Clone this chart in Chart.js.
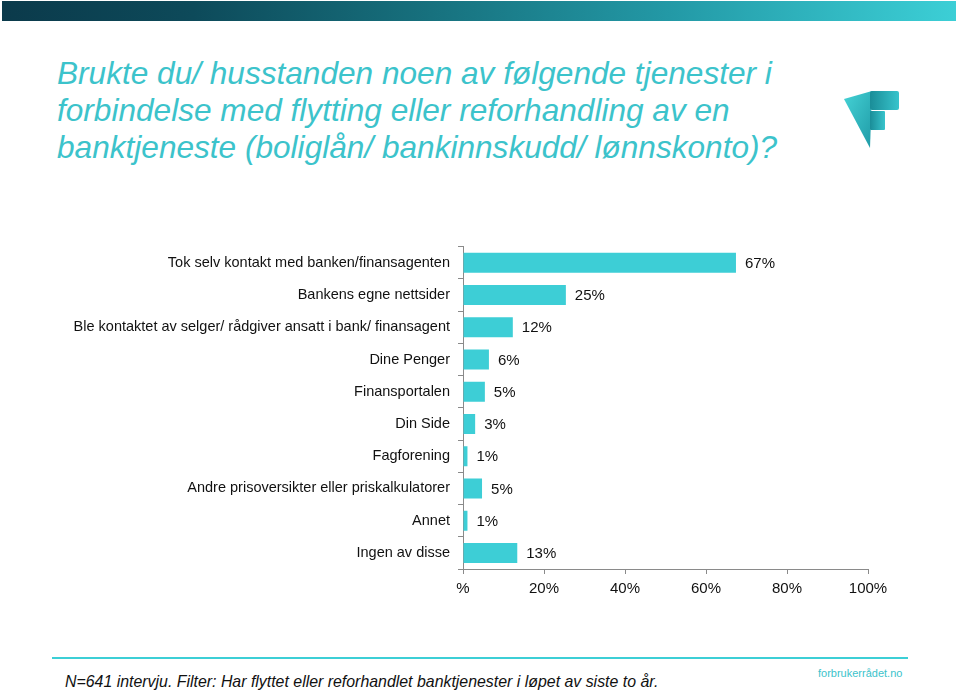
<!DOCTYPE html>
<html>
<head>
<meta charset="utf-8">
<script src="https://cdn.jsdelivr.net/npm/chart.js@4/dist/chart.umd.min.js"></script>
<style>
  html, body { margin: 0; padding: 0; background: #fff; }
  body { width: 959px; height: 693px; position: relative; overflow: hidden; font-family: "Liberation Sans", Arial, sans-serif; }
  #topbar { position: absolute; left: 2px; top: 1px; width: 954px; height: 20px;
    background: linear-gradient(to right, #0b3a4b 0%, #0d4a5a 20%, #17717e 45%, #2399a6 70%, #3ccfd6 100%); }
  #title { position: absolute; left: 57px; top: 55px; font-style: italic; font-size: 31.6px; line-height: 37px; color: #3cc3cb; }
  #wrap { position: absolute; left: 0; top: 230px; width: 959px; height: 380px; }
  #footline { position: absolute; left: 52px; top: 657px; width: 856px; height: 2px; background: #3ccfd6; }
  #foot { position: absolute; left: 65px; top: 673px; font-style: italic; font-size: 15.9px; color: #111; }
  #site { position: absolute; left: 818px; top: 667px; font-size: 11px; color: #3cc3cb; }
  #logo { position: absolute; left: 840px; top: 88px; }
</style>
</head>
<body>
<div id="topbar"></div>
<div id="title">Brukte du/ husstanden noen av følgende tjenester i<br>forbindelse med flytting eller reforhandling av en<br>banktjeneste (boliglån/ bankinnskudd/ lønnskonto)?</div>
<svg id="logo" width="65" height="65" viewBox="840 88 65 65">
  <defs>
    <linearGradient id="g1" x1="0" y1="0" x2="1" y2="1">
      <stop offset="0" stop-color="#45d3d6"/><stop offset="1" stop-color="#1f9aa6"/>
    </linearGradient>
    <linearGradient id="g2" x1="0" y1="0" x2="1" y2="0">
      <stop offset="0" stop-color="#1a8d98"/><stop offset="1" stop-color="#38c4cc"/>
    </linearGradient>
  </defs>
  <polygon points="844,99 872,91 870,148" fill="url(#g1)"/>
  <rect x="870" y="91" width="29" height="19" rx="2" fill="url(#g2)"/>
  <rect x="870" y="111" width="15" height="19" rx="1" fill="url(#g2)"/>
</svg>
<div id="wrap"><canvas id="c" width="959" height="380"></canvas></div>
<div id="footline"></div>
<div id="foot">N=641 intervju. Filter: Har flyttet eller reforhandlet banktjenester i løpet av siste to år.</div>
<div id="site">forbrukerrådet.no</div>
<script>
const categories = [
  "Tok selv kontakt med banken/finansagenten",
  "Bankens egne nettsider",
  "Ble kontaktet av selger/ rådgiver ansatt i bank/ finansagent",
  "Dine Penger",
  "Finansportalen",
  "Din Side",
  "Fagforening",
  "Andre prisoversikter eller priskalkulatorer",
  "Annet",
  "Ingen av disse"
];
const values = [67.4, 25.4, 12.3, 6.4, 5.4, 3.0, 1.1, 4.7, 1.1, 13.4];
const valueLabels = ["67%", "25%", "12%", "6%", "5%", "3%", "1%", "5%", "1%", "13%"];
const xTickValues = [0, 20, 40, 60, 80, 100];
const xTickLabels = ["%", "20%", "40%", "60%", "80%", "100%"];

const FONT = "'Liberation Sans', Arial, sans-serif";

const labelPlugin = {
  id: 'valueLabels',
  afterDatasetsDraw(chart) {
    const ctx = chart.ctx;
    const meta = chart.getDatasetMeta(0);
    ctx.save();
    ctx.font = "15px " + FONT;
    ctx.fillStyle = "#111";
    ctx.textAlign = "left";
    ctx.textBaseline = "middle";
    meta.data.forEach((bar, i) => {
      ctx.fillText(valueLabels[i], bar.x + 9, bar.y + 1);
    });
    ctx.restore();
  }
};

new Chart(document.getElementById('c'), {
  type: 'bar',
  data: {
    labels: categories,
    datasets: [{
      data: values,
      backgroundColor: '#3dced6',
      borderWidth: 0,
      barPercentage: 0.62,
      categoryPercentage: 1.0
    }]
  },
  options: {
    indexAxis: 'y',
    responsive: false,
    animation: false,
    events: [],
    layout: { padding: { top: 15, right: 91, bottom: 11, left: 0 } },
    plugins: { legend: { display: false }, tooltip: { enabled: false } },
    scales: {
      x: {
        min: 0, max: 100,
        afterBuildTicks(scale) { scale.ticks = xTickValues.map(v => ({ value: v })); },
        afterFit(scale) { scale.height = 30; },
        ticks: {
          callback(v) { const i = xTickValues.indexOf(v); return i >= 0 ? xTickLabels[i] : ''; },
          color: '#111', font: { family: FONT, size: 15 }, padding: 6, maxRotation: 0
        },
        grid: { drawOnChartArea: false, drawTicks: true, tickLength: 5, color: '#8a8a8a' },
        border: { display: true, color: '#8a8a8a', width: 1 }
      },
      y: {
        afterFit(scale) { scale.width = 463; },
        ticks: { color: '#111', font: { family: FONT, size: 14.5 }, padding: 8 },
        grid: { drawOnChartArea: false, drawTicks: true, tickLength: 5, color: '#8a8a8a', offset: true },
        border: { display: true, color: '#8a8a8a', width: 1 }
      }
    }
  },
  plugins: [labelPlugin]
});
</script>
</body>
</html>
